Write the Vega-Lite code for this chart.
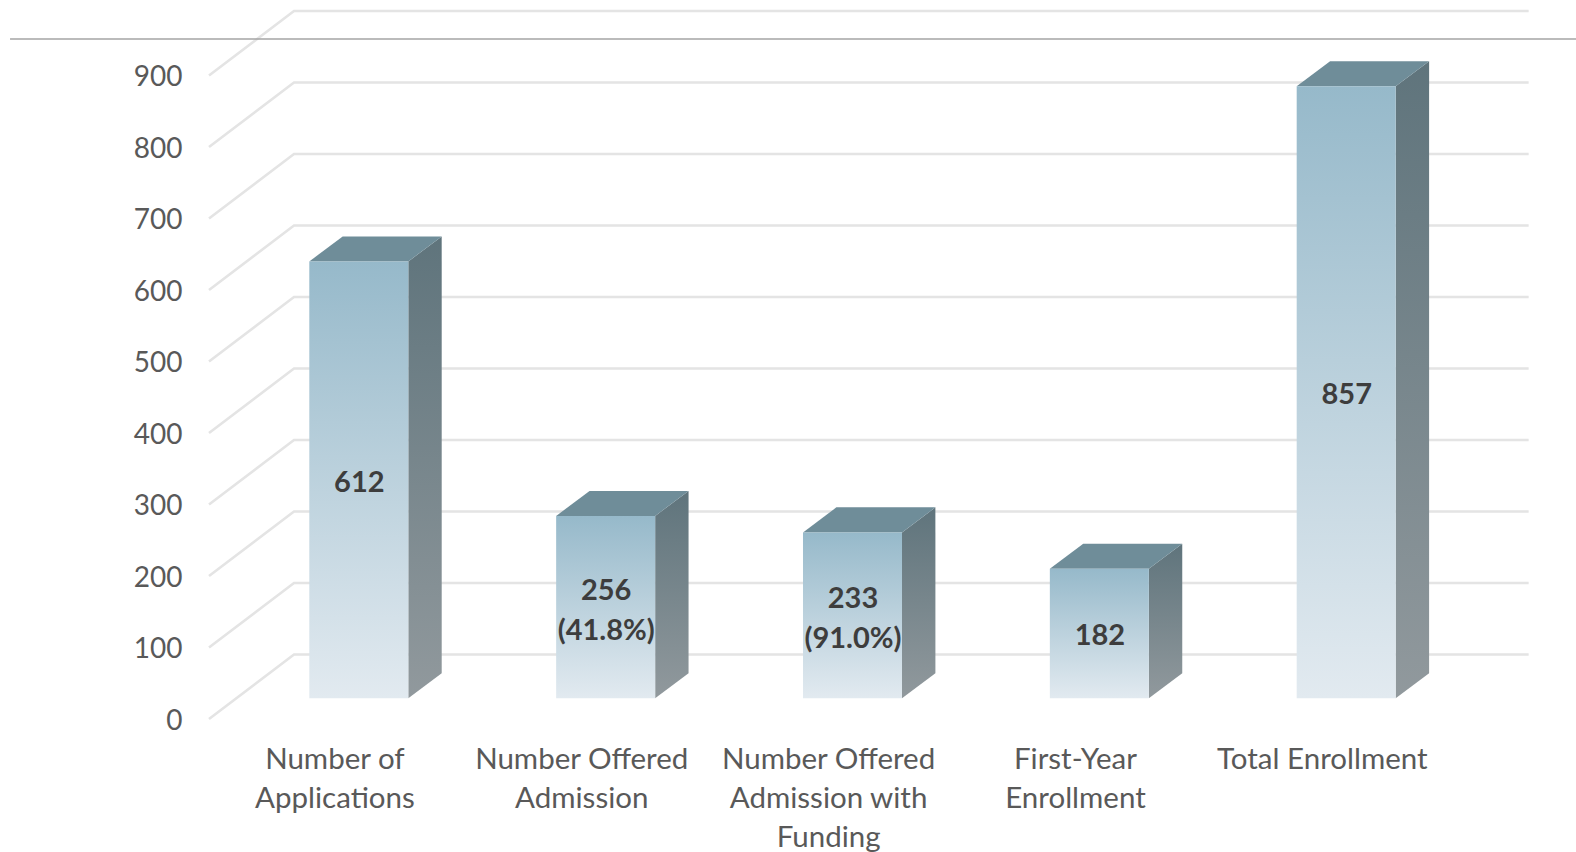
{"$schema":"https://vega.github.io/schema/vega-lite/v6.json","width":1576,"height":852,"padding":0,"autosize":{"type":"none"},"background":"#ffffff","view":{"stroke":null},"config":{"font":"Lato"},
"datasets":{
"grid":[
{"level":0,"x":0,"y":0},{"level":0,"x":0.3443,"y":90.2},{"level":0,"x":5.346,"y":90.2},
{"level":100,"x":0,"y":100},{"level":100,"x":0.3443,"y":190.2},{"level":100,"x":5.346,"y":190.2},
{"level":200,"x":0,"y":200},{"level":200,"x":0.3443,"y":290.2},{"level":200,"x":5.346,"y":290.2},
{"level":300,"x":0,"y":300},{"level":300,"x":0.3443,"y":390.2},{"level":300,"x":5.346,"y":390.2},
{"level":400,"x":0,"y":400},{"level":400,"x":0.3443,"y":490.2},{"level":400,"x":5.346,"y":490.2},
{"level":500,"x":0,"y":500},{"level":500,"x":0.3443,"y":590.2},{"level":500,"x":5.346,"y":590.2},
{"level":600,"x":0,"y":600},{"level":600,"x":0.3443,"y":690.2},{"level":600,"x":5.346,"y":690.2},
{"level":700,"x":0,"y":700},{"level":700,"x":0.3443,"y":790.2},{"level":700,"x":5.346,"y":790.2},
{"level":800,"x":0,"y":800},{"level":800,"x":0.3443,"y":890.2},{"level":800,"x":5.346,"y":890.2},
{"level":900,"x":0,"y":900},{"level":900,"x":0.3443,"y":990.2},{"level":900,"x":5.346,"y":990.2}],
"rule":[{"x":-0.806,"x2":5.5378,"y":951}],
"front":[
{"cat":"Number of Applications","x":0.4063,"x2":0.8074,"y":640,"y2":29},
{"cat":"Number Offered Admission","x":1.4063,"x2":1.8074,"y":284,"y2":29},
{"cat":"Number Offered Admission with Funding","x":2.4063,"x2":2.8074,"y":261,"y2":29},
{"cat":"First-Year Enrollment","x":3.4063,"x2":3.8074,"y":210,"y2":29},
{"cat":"Total Enrollment","x":4.4063,"x2":4.8074,"y":885,"y2":29}],
"side":[
{"cat":"a","x":0.8074,"y":640,"y2":29},{"cat":"a","x":0.9427,"y":675,"y2":64},
{"cat":"b","x":1.8074,"y":284,"y2":29},{"cat":"b","x":1.9427,"y":319,"y2":64},
{"cat":"c","x":2.8074,"y":261,"y2":29},{"cat":"c","x":2.9427,"y":296,"y2":64},
{"cat":"d","x":3.8074,"y":210,"y2":29},{"cat":"d","x":3.9427,"y":245,"y2":64},
{"cat":"e","x":4.8074,"y":885,"y2":29},{"cat":"e","x":4.9427,"y":920,"y2":64}],
"topface":[
{"cat":"a","x":0.4063,"y":640,"y2":640},{"cat":"a","x":0.5416,"y":675,"y2":640},{"cat":"a","x":0.8074,"y":675,"y2":640},{"cat":"a","x":0.9427,"y":675,"y2":675},
{"cat":"b","x":1.4063,"y":284,"y2":284},{"cat":"b","x":1.5416,"y":319,"y2":284},{"cat":"b","x":1.8074,"y":319,"y2":284},{"cat":"b","x":1.9427,"y":319,"y2":319},
{"cat":"c","x":2.4063,"y":261,"y2":261},{"cat":"c","x":2.5416,"y":296,"y2":261},{"cat":"c","x":2.8074,"y":296,"y2":261},{"cat":"c","x":2.9427,"y":296,"y2":296},
{"cat":"d","x":3.4063,"y":210,"y2":210},{"cat":"d","x":3.5416,"y":245,"y2":210},{"cat":"d","x":3.8074,"y":245,"y2":210},{"cat":"d","x":3.9427,"y":245,"y2":245},
{"cat":"e","x":4.4063,"y":885,"y2":885},{"cat":"e","x":4.5416,"y":920,"y2":885},{"cat":"e","x":4.8074,"y":920,"y2":885},{"cat":"e","x":4.9427,"y":920,"y2":920}],
"labels":[
{"label":"612","x":0.609,"y":329.5},
{"label":"256\n(41.8%)","x":1.609,"y":179.5},
{"label":"233\n(91.0%)","x":2.609,"y":168.5},
{"label":"182","x":3.609,"y":115.5},
{"label":"857","x":4.609,"y":453.5}]
},
"encoding":{
"x":{"field":"x","type":"quantitative","scale":{"domain":[-0.8467,5.5378],"nice":false,"zero":false},"axis":{"title":null,"values":[0.508,1.508,2.508,3.508,4.508],"labelExpr":"[['Number of','Applications'],['Number Offered','Admission'],['Number Offered','Admission with','Funding'],['First-Year','Enrollment'],['Total Enrollment']][floor(datum.value)]","domain":false,"ticks":false,"grid":false,"offset":-107,"labelPadding":0,"labelFontSize":29.5,"labelLimit":400,"labelColor":"#595959","labelFont":"Lato","labelLineHeight":39,"labelBaseline":"top","labelAlign":"center","labelOverlap":false,"labelBound":false,"labelFlush":false}},
"y":{"field":"y","type":"quantitative","stack":null,"scale":{"domain":[-186,1005.6],"nice":false,"zero":false},"axis":{"title":null,"values":[0,100,200,300,400,500,600,700,800,900],"domain":false,"ticks":false,"grid":false,"offset":-182,"labelPadding":0,"labelOffset":2,"labelFontSize":28,"labelColor":"#595959","labelFont":"Lato","labelOverlap":false,"labelBound":false,"labelFlush":false}}
},
"layer":[
{"data":{"name":"grid"},"mark":{"type":"line","stroke":"#e4e4e4","strokeWidth":2.6,"clip":true},"encoding":{"detail":{"field":"level"}}},
{"data":{"name":"rule"},"mark":{"type":"rule","stroke":"#a5a5a5","strokeWidth":1.6},"encoding":{"x2":{"field":"x2"}}},
{"data":{"name":"side"},"mark":{"type":"area","orient":"vertical","color":{"gradient":"linear","x1":0,"y1":0,"x2":0,"y2":1,"stops":[{"offset":0,"color":"#5f747c"},{"offset":1,"color":"#91999d"}]}},"encoding":{"y2":{"field":"y2"},"detail":{"field":"cat"}}},
{"data":{"name":"topface"},"mark":{"type":"area","orient":"vertical","color":"#6f8d99"},"encoding":{"y2":{"field":"y2"},"detail":{"field":"cat"}}},
{"data":{"name":"front"},"mark":{"type":"rect","color":{"gradient":"linear","x1":0,"y1":0,"x2":0,"y2":1,"stops":[{"offset":0,"color":"#96b9ca"},{"offset":1,"color":"#e2eaf0"}]}},"encoding":{"x2":{"field":"x2"},"y2":{"field":"y2"}}},
{"data":{"name":"labels"},"mark":{"type":"text","font":"Lato","fontWeight":"bold","fontSize":29,"color":"#3d3d3d","lineBreak":"\n","lineHeight":40,"baseline":"middle","align":"center"},"encoding":{"text":{"field":"label","type":"nominal"}}}
]}
